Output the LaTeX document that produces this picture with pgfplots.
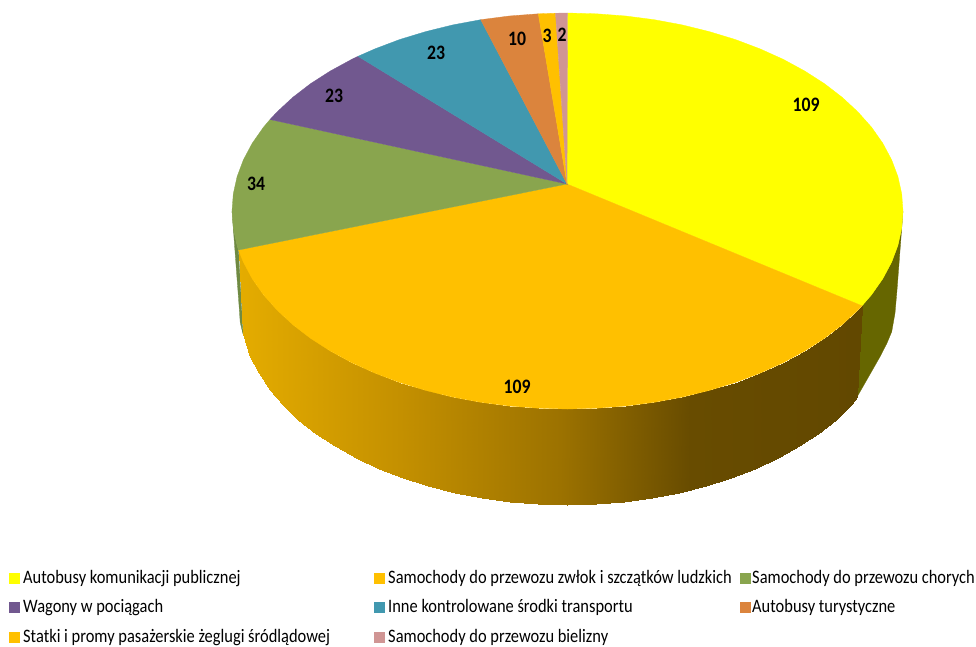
\documentclass[border=0pt]{standalone}
\usepackage{pgfplots}
\pgfplotsset{compat=1.18}
\usepackage{fontspec}
\setmainfont[FakeStretch=0.865]{Carlito}

\definecolor{pieyellow}{HTML}{FFFF00}
\definecolor{pieorange}{HTML}{FFC000}
\definecolor{piegreen}{HTML}{89A54E}
\definecolor{piepurple}{HTML}{71588F}
\definecolor{pieteal}{HTML}{4198AF}
\definecolor{piecopper}{HTML}{DB843D}
\definecolor{piepink}{HTML}{D09594}
\definecolor{sideyellow}{HTML}{666600}
\definecolor{sidegreen}{HTML}{6F8A42}

\pgfplotsset{
  slice/.style={fill=#1, draw=#1, line width=0.3pt, forget plot},
  key/.style={only marks, mark=square*, mark size=5pt, mark options={fill=#1, draw=#1}, forget plot},
}

\begin{document}
\begin{tikzpicture}
\path[use as bounding box] (0,0) rectangle (976pt,646pt);
\begin{axis}[
    at={(0,0)},
    anchor=south west,
    scale only axis,
    width=976pt,
    height=646pt,
    xmin=0, xmax=976,
    ymin=0, ymax=646,
    y dir=reverse,
    hide axis,
    clip=false,
    colormap={sidegold}{
      rgb255(240)=(228,172,0)
      rgb255(400)=(196,144,0)
      rgb255(560)=(156,114,0)
      rgb255(690)=(104,76,0)
      rgb255(860)=(98,72,0)
    },
    point meta min=240,
    point meta max=860,
  ]

% sides
\addplot[slice=sideyellow] coordinates {
  (903,211) (901.7,228.3) (897.9,245.4) (891.6,262.2) (882.8,278.7) (871.6,294.7) (862,305.8)
  (857,397) (869,376) (880,356.7) (887,343) (891.7,331.7) (895,313) (897,290)
} -- cycle;
\addplot[slice=sidegreen] coordinates {
  (238.5,250) (237.1,245.4) (233.3,228.3) (232,211) (239,305) (240.2,322.4) (243,334)
} -- cycle;
\addplot[surf, shader=interp, mesh/cols=30, point meta=x, forget plot] table {
x y
862 305.8
858 310
842.3 324.6
824.5 338.3
804.7 351
783.2 362.7
759.9 373.2
735.3 382.5
709.3 390.4
682.2 397.1
654.3 402.3
625.8 406
596.7 408.2
567.5 409
538.3 408.2
509.2 406
480.7 402.3
452.8 397.1
425.7 390.4
399.7 382.5
375.1 373.2
351.8 362.7
330.3 351
310.5 338.3
292.7 324.6
277 310
263.4 294.7
252.2 278.7
243.4 262.2
238.5 250

857 397
851.1 405
835.7 419.7
818.3 433.6
798.9 446.4
777.8 458.2
755.1 468.8
731 478.2
705.6 486.3
679.2 492.9
651.9 498.2
624 502
595.6 504.2
567 505
538.4 504.2
510 502
482.1 498.2
454.8 492.9
428.4 486.3
403 478.2
378.9 468.8
356.2 458.2
335.1 446.4
315.7 433.6
298.3 419.7
282.9 405
269.7 389.5
258.8 373.4
250.2 356.8
243 334
};

% top face
\addplot[slice=pieyellow] coordinates {
  (567,184) (567.5,13) (596.7,13.8) (625.8,16) (654.3,19.7) (682.2,24.9) (709.3,31.6) (735.3,39.5)
  (759.9,48.8) (783.2,59.3) (804.7,71) (824.5,83.7) (842.3,97.4) (858,112) (871.6,127.3)
  (882.8,143.3) (891.6,159.8) (897.9,176.6) (901.7,193.7) (903,211) (901.7,228.3) (897.9,245.4)
  (891.6,262.2) (882.8,278.7) (871.6,294.7) (862,305.8)
} -- cycle;
\addplot[slice=pieorange] coordinates {
  (567,184) (862,305.8) (858,310) (842.3,324.6) (824.5,338.3) (804.7,351) (783.2,362.7) (759.9,373.2)
  (735.3,382.5) (709.3,390.4) (682.2,397.1) (654.3,402.3) (625.8,406) (596.7,408.2) (567.5,409)
  (538.3,408.2) (509.2,406) (480.7,402.3) (452.8,397.1) (425.7,390.4) (399.7,382.5) (375.1,373.2)
  (351.8,362.7) (330.3,351) (310.5,338.3) (292.7,324.6) (277,310) (263.4,294.7) (252.2,278.7)
  (243.4,262.2) (238.5,250)
} -- cycle;
\addplot[slice=piegreen] coordinates {
  (567,184) (238.5,250) (237.1,245.4) (233.3,228.3) (232,211) (233.3,193.7) (237.1,176.6)
  (243.4,159.8) (252.2,143.3) (263.4,127.3) (270,119.5)
} -- cycle;
\addplot[slice=piepurple] coordinates {
  (567,184) (270,119.5) (277,112) (292.7,97.4) (310.5,83.7) (330.3,71) (351.8,59.3) (358,56.3)
} -- cycle;
\addplot[slice=pieteal] coordinates {
  (567,184) (358,56.3) (375.1,48.8) (399.7,39.5) (425.7,31.6) (452.8,24.9) (480.7,19.7)
} -- cycle;
\addplot[slice=piecopper] coordinates {
  (567,184) (480.7,19.7) (509.2,16) (538.3,13.8)
} -- cycle;
\addplot[slice=pieorange] coordinates {
  (567,184) (538.3,13.8) (555.5,13.2)
} -- cycle;
\addplot[slice=piepink] coordinates {
  (567,184) (555.5,13.2) (567.5,13)
} -- cycle;

% legend keys
\addplot[key=pieyellow] coordinates {(14.5,578)};
\addplot[key=pieorange] coordinates {(379.5,578)};
\addplot[key=piegreen] coordinates {(745.5,578)};
\addplot[key=piepurple] coordinates {(14.5,607)};
\addplot[key=pieteal] coordinates {(379.5,607)};
\addplot[key=piecopper] coordinates {(745.5,607)};
\addplot[key=pieorange] coordinates {(14.5,637)};
\addplot[key=piepink] coordinates {(379.5,637)};

% data labels
\begin{scope}[every node/.style={font=\fontsize{20.5}{20.5}\selectfont\bfseries, inner sep=0pt}]
\node at (axis cs:806,105) {109};
\node at (axis cs:517,387) {109};
\node at (axis cs:256,184) {34};
\node at (axis cs:334,96) {23};
\node at (axis cs:436,53) {23};
\node at (axis cs:517,39) {10};
\node at (axis cs:547,36) {3};
\node at (axis cs:562,35) {2};
\end{scope}

% legend text
\begin{scope}[every node/.style={font=\fontsize{19}{19}\selectfont, inner sep=0pt, anchor=base west}]
\node at (axis cs:23,583) {Autobusy komunikacji publicznej};
\node at (axis cs:388,583) {Samochody do przewozu zwłok i szczątków ludzkich};
\node at (axis cs:752,583) {Samochody do przewozu chorych};
\node at (axis cs:23,612.5) {Wagony w pociągach};
\node at (axis cs:388,612.5) {Inne kontrolowane środki transportu};
\node at (axis cs:752,612.5) {Autobusy turystyczne};
\node at (axis cs:23,642) {Statki i promy pasażerskie żeglugi śródlądowej};
\node at (axis cs:388,642) {Samochody do przewozu bielizny};
\end{scope}
\end{axis}
\end{tikzpicture}
\end{document}
